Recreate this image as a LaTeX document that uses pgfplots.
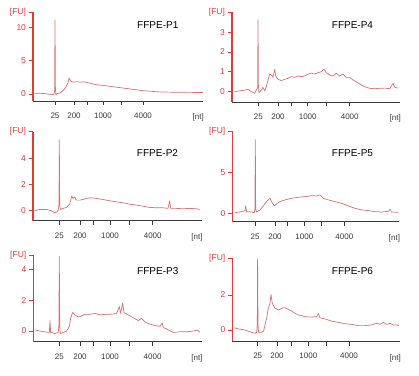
\documentclass[border=0pt]{standalone}
\usepackage{fontspec}
\setmainfont{Liberation Sans}
\usepackage{pgfplots}
\pgfplotsset{compat=1.18}
\definecolor{fured}{HTML}{E03A3A}
\definecolor{axgray}{HTML}{3A3A3A}
\definecolor{trace}{HTML}{D97070}
\pgfplotsset{
  bio/.style={
    scale only axis,
    axis x line*=bottom,
    axis y line*=left,
    tick align=outside,
    major tick length=4.5pt,
    xmin=0,
    x axis line style={draw=axgray, line width=0.9pt},
    y axis line style={draw=fured, line width=1.1pt},
    xtick style={draw=axgray, line width=0.8pt},
    ytick style={draw=fured, line width=0.9pt},
    xticklabels={25,200,,1000,,4000},
    x tick label style={font=\fontsize{8}{9}\selectfont, text=axgray, yshift=-4pt},
    y tick label style={font=\fontsize{8.5}{9}\selectfont, text=fured, xshift=1pt},
    /pgf/number format/assume math mode=true,
    extra y tick labels={{[FU]}},
    extra y tick style={tick label style={font=\fontsize{8}{9}\selectfont, text=fured}},
    clip=false,
  },
  trc/.style={trace, line width=0.7pt, mark=none, line join=round},
}
\newcommand{\ntlabel}{\node[anchor=north east, font=\fontsize{8}{9}\selectfont, text=axgray, inner sep=0pt] at (rel axis cs:1,0) [yshift=-13pt, xshift=1pt] {[nt]};}
\begin{document}
\begin{tikzpicture}
\path[use as bounding box] (0,0) rectangle (419pt,375pt);
% ---------------- P1
\begin{axis}[bio, at={(33pt,274pt)}, anchor=south west, width=170pt, height=89pt,
  xmax=170, ymin=-1.06, ymax=12.4, ytick={0,5,10}, extra y ticks={12.4},
  xtick={22,41,54,70,88,110}]
\addplot[trc] coordinates {(0,0.1) (5,0.12) (10,0.08) (15,0.0) (19,-0.1) (21,-0.05) (21.6,0.5) (22,11.2) (22.4,1) (22.8,-0.1) (24,0.05) (27,0.15) (30,0.5) (33,1.1) (35,1.7) (36,2.4) (37,2.2) (38,1.9) (40,1.8) (44,1.85) (48,1.8) (52,1.8) (55,1.7) (58,1.6) (62,1.45) (66,1.35) (70,1.3) (75,1.2) (80,1.1) (85,1.0) (90,0.9) (95,0.8) (100,0.7) (105,0.6) (110,0.5) (115,0.45) (120,0.38) (125,0.33) (130,0.3) (140,0.27) (150,0.25) (160,0.24) (170,0.22)};
\ntlabel
\end{axis}
% ---------------- P4
\begin{axis}[bio, at={(232pt,273pt)}, anchor=south west, width=168pt, height=89.7pt,
  xmax=168, ymin=-0.52, ymax=4.0, ytick={0,1,2,3}, extra y ticks={4.0},
  xtick={26.3,46,59,75.7,94,117.7}]
\addplot[trc] coordinates {(2.7,0) (12.7,0.08) (16,0.12) (19.3,0) (22.7,-0.08) (24.3,0.08) (25.6,0.2) (26,3.62) (26.4,0.3) (27,-0.05) (29.3,0.08) (31,0.22) (32.7,0.05) (34.3,0.25) (37.7,0.89) (39.3,0.84) (41,0.72) (42.7,1.13) (43.7,0.79) (46,0.62) (49.3,0.56) (52.7,0.62) (56,0.67) (59.3,0.76) (62.7,0.72) (66,0.79) (69.3,0.76) (72.7,0.79) (76,0.89) (79.3,0.93) (82.7,0.89) (86,0.96) (89.3,1.0) (92,1.13) (94.3,0.96) (97.7,0.84) (101,0.79) (104.3,0.93) (107.7,0.79) (111,0.89) (114.3,0.72) (117.7,0.72) (121,0.59) (124.3,0.5) (127.7,0.39) (131,0.29) (134.3,0.22) (137.7,0.17) (142.7,0.15) (147.7,0.17) (152.7,0.18) (157.7,0.15) (161,0.42) (162.7,0.22) (166,0.18)};
\ntlabel
\end{axis}
% ---------------- P2
\begin{axis}[bio, at={(33pt,154.3pt)}, anchor=south west, width=168.7pt, height=89pt,
  xmax=168.7, ymin=-0.76, ymax=6.03, ytick={0,2,4}, extra y ticks={6.03},
  xtick={26.3,47,60.3,77,96.3,119.7}]
\addplot[trc] coordinates {(1.7,0) (6.7,0.1) (13.3,0.1) (18.3,0) (21.7,-0.15) (24,-0.08) (25.3,0.05) (26,0.5) (26.3,5.42) (26.7,0.5) (27.3,0.1) (30,0.18) (33.3,0.25) (36.7,0.5) (38.7,1.11) (40,0.94) (41.7,1.06) (43.3,0.81) (46.7,0.81) (50,0.86) (53.3,0.94) (58.3,0.99) (63.3,0.94) (70,0.86) (76.7,0.76) (83.3,0.68) (90,0.61) (96.7,0.5) (103.3,0.43) (110,0.35) (116.7,0.25) (123.3,0.23) (130,0.23) (135,0.18) (136.7,0.76) (137.7,0.18) (143.3,0.18) (150,0.15) (156.7,0.18) (163.3,0.15) (166.7,0.1)};
\ntlabel
\end{axis}
% ---------------- P5
\begin{axis}[bio, at={(232.3pt,153.3pt)}, anchor=south west, width=167pt, height=90.7pt,
  xmax=167, ymin=-1.02, ymax=10.0, ytick={0,5}, extra y ticks={10.0},
  xtick={22.7,42.7,55.4,72,88.7,112}]
\addplot[trc] coordinates {(2.7,0.08) (9.3,0.2) (12.7,0.33) (13.3,0.9) (14.3,0.2) (19.3,0.16) (22,0.08) (22.6,0.5) (23,8.94) (23.4,0.5) (24,0.16) (27.7,0.4) (31,0.9) (34.3,1.42) (37.7,1.83) (39.3,1.42) (42,0.9) (44.3,1.14) (47.7,1.42) (52.7,1.63) (59.3,1.83) (66,1.95) (72.7,2.03) (79.3,2.15) (84.3,2.11) (87.7,2.24) (91,1.83) (96,1.63) (102.7,1.42) (109.3,1.22) (116,0.9) (122.7,0.61) (129.3,0.41) (136,0.33) (142.7,0.2) (149.3,0.16) (156,0.24) (157.7,0.49) (159.3,0.16) (166,0.12)};
\ntlabel
\end{axis}
% ---------------- P3
\begin{axis}[bio, at={(33.3pt,33.3pt)}, anchor=south west, width=168.4pt, height=86.7pt,
  xmax=168.4, ymin=-0.69, ymax=4.93, ytick={0,2,4}, extra y ticks={4.93},
  xtick={26,46.7,60,76.7,96,119.3}]
\addplot[trc] coordinates {(1.7,0.07) (6.7,0) (11.7,-0.05) (16,-0.09) (16.7,0.68) (17.3,-0.09) (21.7,-0.16) (25,-0.09) (25.6,0.4) (26,4.84) (26.4,0.4) (27,-0.16) (30,-0.09) (33.3,0) (36,0.3) (37.3,0.82) (39.3,1.2) (41.7,1.05) (45,0.91) (48.3,0.98) (51.7,1.09) (56.7,1.09) (61.7,1.14) (66.7,1.05) (73.3,1.09) (78.3,1.09) (83.3,1.14) (86,1.59) (87.3,1.14) (89.3,1.82) (90.7,1.2) (95,1.05) (100,0.86) (105,0.68) (108.3,0.82) (111.7,0.59) (116.7,0.45) (121.7,0.36) (126.7,0.3) (129,0.52) (130,0.23) (135,0.07) (140,-0.09) (146.7,-0.05) (153.3,-0.05) (160,0) (164,0.07) (166.7,-0.09)};
\ntlabel
\end{axis}
% ---------------- P6
\begin{axis}[bio, at={(232.3pt,34pt)}, anchor=south west, width=167.7pt, height=82.7pt,
  xmax=167.7, ymin=-0.63, ymax=4.1, ytick={0,2}, extra y ticks={4.1},
  xtick={25.4,44.7,59.4,76,93.7,116.7}]
\addplot[trc] coordinates {(2,0.13) (6,0.06) (12.7,0) (19.3,-0.13) (22.7,-0.19) (24.3,-0.13) (25,0.3) (25.3,4.06) (25.7,0.3) (26.3,-0.13) (29.3,-0.13) (31.3,-0.06) (32.7,0.29) (34.3,0.67) (36,1.24) (37.7,1.52) (38.7,2.04) (40,1.52) (42.7,1.24) (46,1.14) (49.3,1.24) (52.7,1.28) (55.3,1.2) (59.3,1.09) (62.7,0.95) (66,0.86) (69.3,0.82) (72.7,0.76) (79.3,0.74) (84.3,0.76) (86,0.95) (87.7,0.7) (92.7,0.63) (99.3,0.51) (106,0.44) (112.7,0.36) (119.3,0.32) (126,0.25) (132.7,0.25) (139.3,0.29) (144.3,0.38) (147.7,0.32) (151,0.44) (154.3,0.32) (157.7,0.38) (161,0.29) (164.3,0.29) (166.7,0.25)};
\ntlabel
\end{axis}
% ---------------- titles
\node[anchor=west, inner sep=0pt, font=\fontsize{10}{12}\selectfont] at (137pt,350pt) {FFPE-P1};
\node[anchor=west, inner sep=0pt, font=\fontsize{10}{12}\selectfont] at (331.7pt,350pt) {FFPE-P4};
\node[anchor=west, inner sep=0pt, font=\fontsize{10}{12}\selectfont] at (136.7pt,221.7pt) {FFPE-P2};
\node[anchor=west, inner sep=0pt, font=\fontsize{10}{12}\selectfont] at (331.7pt,222.3pt) {FFPE-P5};
\node[anchor=west, inner sep=0pt, font=\fontsize{10}{12}\selectfont] at (137pt,104pt) {FFPE-P3};
\node[anchor=west, inner sep=0pt, font=\fontsize{10}{12}\selectfont] at (331.7pt,104pt) {FFPE-P6};
\end{tikzpicture}
\end{document}
